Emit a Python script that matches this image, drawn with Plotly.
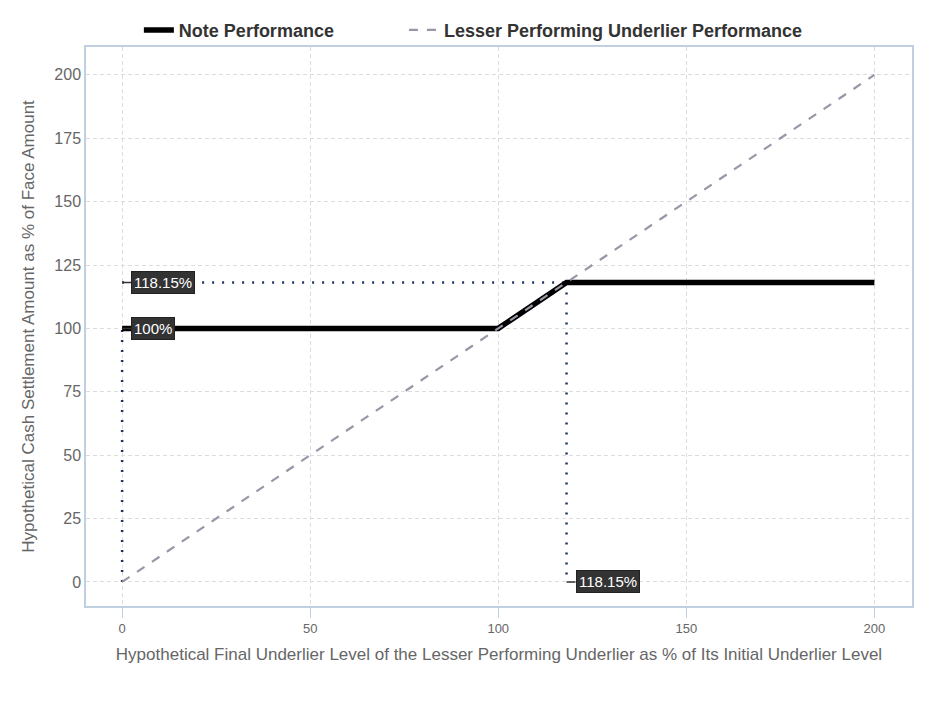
import plotly.graph_objects as go

# Data
note_x = [0, 100, 118.15, 200]
note_y = [100, 100, 118.15, 118.15]
under_x = [0, 200]
under_y = [0, 200]
cap_level = 118.15
floor_level = 100
label_cap = "118.15%"
label_floor = "100%"
x_ticks = [0, 50, 100, 150, 200]
y_ticks = [0, 25, 50, 75, 100, 125, 150, 175, 200]
series_names = ["Note Performance", "Lesser Performing Underlier Performance"]

navy = "#1c3366"
dot = "2px,8px"
fig = go.Figure()

# reference dotted lines
fig.add_trace(go.Scatter(x=[0, 0], y=[0, floor_level], mode="lines",
                         line=dict(color=navy, width=2.5, dash=dot), showlegend=False, hoverinfo="skip"))
fig.add_trace(go.Scatter(x=[0, cap_level], y=[cap_level, cap_level], mode="lines",
                         line=dict(color=navy, width=2.5, dash=dot), showlegend=False, hoverinfo="skip"))
fig.add_trace(go.Scatter(x=[cap_level, cap_level], y=[cap_level, 0], mode="lines",
                         line=dict(color=navy, width=2.5, dash=dot), showlegend=False, hoverinfo="skip"))

fig.add_trace(go.Scatter(x=note_x, y=note_y, mode="lines",
                         name="<b>" + series_names[0] + "</b>" + "&nbsp;" * 13,
                         line=dict(color="black", width=5.5)))
fig.add_trace(go.Scatter(x=under_x, y=under_y, mode="lines",
                         name="<b>" + series_names[1] + "</b>",
                         line=dict(color="#9797a6", width=2.2, dash="dash")))

def label(x, y, text):
    fig.add_annotation(x=x, y=y, text=text, showarrow=True, ax=9, ay=0, axref="pixel",
                       arrowhead=0, arrowwidth=1.5, arrowcolor="#333",
                       xanchor="left", bgcolor="#333333", bordercolor="#222", borderwidth=1,
                       borderpad=2, font=dict(color="white", size=15, family="Liberation Sans, Arial"))

label(0, cap_level, label_cap)
label(0, floor_level, label_floor)
label(cap_level, 0, label_cap)

fig.update_layout(
    width=938, height=703,
    margin=dict(l=78, r=34, t=39, b=105, autoexpand=False),
    paper_bgcolor="white", plot_bgcolor="white",
    font=dict(family="Liberation Sans, Arial", color="#666666"),
    legend=dict(orientation="h", x=0.064, y=1.03, xanchor="left", yanchor="middle",
                bgcolor="rgba(0,0,0,0)",
                font=dict(size=18, color="#333333", family="Liberation Sans, Arial"),
                traceorder="normal"),
    xaxis=dict(range=[-9.6, 210], tickvals=x_ticks, showgrid=True, gridcolor="#dcdcdc", griddash="4px,3px",
               zeroline=False, showline=True, linecolor="#c0d0e0", linewidth=1.5, mirror=True,
               ticks="outside", tickcolor="#c0d0e0", ticklen=10, automargin=False,
               tickfont=dict(size=13, color="#666666"),
               title=dict(text="Hypothetical Final Underlier Level of the Lesser Performing Underlier as % of Its Initial Underlier Level",
                          font=dict(size=17, color="#666666"), standoff=13)),
    yaxis=dict(range=[-9.5, 211], tickvals=y_ticks, showgrid=True, gridcolor="#dcdcdc", griddash="4px,3px",
               zeroline=False, showline=True, linecolor="#c0d0e0", linewidth=1.5, mirror=True,
               ticks="", tickfont=dict(size=16, color="#666666"), automargin=False,
               title=dict(text="Hypothetical Cash Settlement Amount as % of Face Amount",
                          font=dict(size=17, color="#666666"), standoff=15)),
)

fig.write_html("out.html")
